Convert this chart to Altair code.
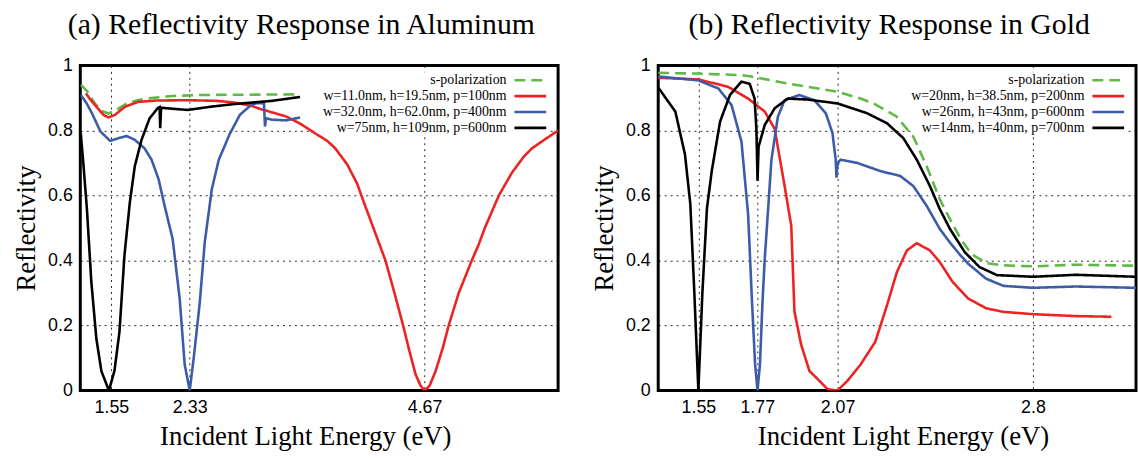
import altair as alt
import pandas as pd

# ---------------- (a) Aluminum ----------------
al_spol_E = [1.245, 1.26, 1.31, 1.38, 1.45, 1.52, 1.60, 1.70, 1.81, 1.95, 2.16, 2.44, 2.94, 3.43]
al_spol_R = [0.940, 0.936, 0.920, 0.885, 0.860, 0.852, 0.863, 0.882, 0.893, 0.900, 0.906, 0.909, 0.910, 0.911]

al_red_E = [1.296, 1.34, 1.388, 1.47, 1.52, 1.586, 1.685, 1.817, 2.0, 2.31, 2.60, 2.77, 2.94, 3.035, 3.08,
            3.29, 3.43, 3.57, 3.70, 3.78, 3.90, 4.00, 4.04, 4.16, 4.28, 4.37, 4.456, 4.52, 4.58, 4.63,
            4.67, 4.72, 4.78, 4.85, 4.91, 5.01, 5.14, 5.21, 5.27, 5.41, 5.54, 5.66, 5.74, 5.88, 6.0]
al_red_R = [0.914, 0.895, 0.878, 0.848, 0.840, 0.848, 0.873, 0.888, 0.892, 0.893, 0.891, 0.886, 0.876, 0.866, 0.862,
            0.843, 0.821, 0.793, 0.768, 0.745, 0.695, 0.635, 0.600, 0.500, 0.400, 0.300, 0.200, 0.120, 0.050, 0.015,
            0.0, 0.015, 0.060, 0.130, 0.200, 0.300, 0.400, 0.450, 0.500, 0.600, 0.670, 0.720, 0.745, 0.775, 0.800]

al_blue_E = [1.245, 1.30, 1.356, 1.44, 1.537, 1.62, 1.70, 1.783, 1.88, 1.95, 2.02, 2.08, 2.16, 2.23, 2.28,
             2.33, 2.37, 2.43, 2.48, 2.55, 2.62, 2.73, 2.83, 2.94, 3.00, 3.07, 3.08, 3.09, 3.15, 3.29, 3.43]
al_blue_R = [0.909, 0.885, 0.853, 0.797, 0.768, 0.776, 0.783, 0.771, 0.745, 0.710, 0.650, 0.568, 0.466, 0.283, 0.080,
             0.0, 0.100, 0.270, 0.456, 0.619, 0.710, 0.790, 0.848, 0.878, 0.884, 0.883, 0.812, 0.838, 0.833, 0.831, 0.840]

al_black_E = [1.245, 1.27, 1.306, 1.35, 1.40, 1.45, 1.525, 1.58, 1.63, 1.68, 1.734, 1.783, 1.85, 1.93, 2.015,
              2.03, 2.036, 2.045, 2.11, 2.31, 2.54, 2.80, 3.035, 3.15, 3.43]
al_black_R = [0.790, 0.700, 0.558, 0.334, 0.160, 0.060, 0.0, 0.060, 0.180, 0.416, 0.580, 0.690, 0.771, 0.837, 0.870,
              0.872, 0.807, 0.870, 0.868, 0.863, 0.873, 0.882, 0.888, 0.891, 0.903]

# ---------------- (b) Gold ----------------
au_spol_E = [1.40, 1.55, 1.711, 1.753, 1.887, 2.02, 2.07, 2.156, 2.205, 2.29, 2.353, 2.403, 2.452, 2.49,
             2.53, 2.57, 2.625, 2.69, 2.80, 2.96, 3.185]
au_spol_R = [0.977, 0.975, 0.970, 0.965, 0.944, 0.926, 0.919, 0.898, 0.883, 0.843, 0.781, 0.690, 0.588, 0.527,
             0.466, 0.420, 0.392, 0.385, 0.382, 0.387, 0.384]

au_red_E = [1.40, 1.55, 1.662, 1.736, 1.798, 1.835, 1.872, 1.897, 1.909, 1.934, 1.965, 1.996, 2.033, 2.07,
            2.107, 2.156, 2.211, 2.255, 2.292, 2.329, 2.366, 2.415, 2.452, 2.50, 2.558, 2.625, 2.69, 2.80,
            2.96, 3.093]
au_red_R = [0.962, 0.957, 0.934, 0.898, 0.858, 0.805, 0.630, 0.507, 0.243, 0.141, 0.060, 0.035, 0.004, 0.0,
            0.030, 0.080, 0.150, 0.263, 0.365, 0.431, 0.453, 0.431, 0.395, 0.334, 0.283, 0.253, 0.242, 0.235,
            0.229, 0.227]

au_blue_E = [1.40, 1.55, 1.625, 1.674, 1.711, 1.736, 1.75, 1.762, 1.771, 1.78, 1.79, 1.798, 1.823, 1.847,
             1.872, 1.927, 1.983, 2.026, 2.051, 2.063, 2.066, 2.069, 2.075, 2.082, 2.144, 2.23, 2.304, 2.353,
             2.403, 2.452, 2.49, 2.525, 2.558, 2.625, 2.69, 2.80, 2.96, 3.185]
au_blue_R = [0.966, 0.954, 0.929, 0.878, 0.766, 0.540, 0.280, 0.080, 0.0, 0.080, 0.280, 0.405, 0.710, 0.842,
             0.893, 0.909, 0.893, 0.853, 0.792, 0.710, 0.655, 0.690, 0.705, 0.710, 0.700, 0.675, 0.660, 0.629,
             0.568, 0.497, 0.455, 0.420, 0.390, 0.344, 0.322, 0.316, 0.320, 0.316]

au_black_E = [1.40, 1.464, 1.50, 1.52, 1.535, 1.55, 1.565, 1.582, 1.60, 1.631, 1.668, 1.711, 1.742, 1.76,
              1.767, 1.771, 1.775, 1.798, 1.835, 1.884, 1.958, 2.07, 2.18, 2.255, 2.316, 2.366, 2.415,
              2.452, 2.49, 2.545, 2.60, 2.665, 2.80, 2.96, 3.185]
au_black_R = [0.932, 0.858, 0.726, 0.573, 0.300, 0.0, 0.300, 0.560, 0.675, 0.827, 0.909, 0.950, 0.943, 0.898,
              0.800, 0.645, 0.750, 0.817, 0.868, 0.898, 0.895, 0.883, 0.853, 0.822, 0.776, 0.710, 0.629,
              0.558, 0.497, 0.426, 0.380, 0.355, 0.350, 0.356, 0.350]

al_labels = ["s-polarization", "w=11.0nm, h=19.5nm, p=100nm",
             "w=32.0nm, h=62.0nm, p=400nm", "w=75nm, h=109nm, p=600nm"]
au_labels = ["s-polarization", "w=20nm, h=38.5nm, p=200nm",
             "w=26nm, h=43nm, p=600nm", "w=14nm, h=40nm, p=700nm"]

al_xticks = [1.55, 2.33, 4.67]
au_xticks = [1.55, 1.77, 2.07, 2.8]
y_ticks = [0, 0.2, 0.4, 0.6, 0.8, 1]

COLORS = ["#5fb946", "#ee2222", "#3c5ba9", "#000000"]
DASHES = [[11, 6], [1, 0], [1, 0], [1, 0]]

SERIF = "Liberation Serif"
SANS = "Liberation Sans"
W_A, W_B, H = 482, 482, 328


def panel(series, labels, xdom, xticks, title, width, title_dx, xtitle_shift, key_w):
    layers = []
    # opaque key box (hides grid behind the legend, like the original)
    layers.append(
        alt.Chart(pd.DataFrame({"k": [0]})).mark_rect(color="white").encode(
            x=alt.value(width - 52 - key_w), x2=alt.value(width - 8),
            y=alt.value(7), y2=alt.value(71))
    )
    for i, (E, R) in enumerate(series):
        df = pd.DataFrame({"E": E, "R": R, "i": list(range(len(E)))})
        layers.append(
            alt.Chart(df).mark_line(
                color=COLORS[i], strokeWidth=2.6, strokeDash=DASHES[i], clip=True
            ).encode(
                x=alt.X("E:Q",
                        scale=alt.Scale(domain=xdom, nice=False, zero=False),
                        axis=alt.Axis(values=xticks, labelExpr="'' + datum.value",
                                      title="Incident Light Energy (eV)",
                                      titleX=width / 2 + xtitle_shift)),
                y=alt.Y("R:Q",
                        scale=alt.Scale(domain=[0, 1], nice=False),
                        axis=alt.Axis(values=y_ticks, labelExpr="'' + datum.value",
                                      title="Reflectivity")),
                order="i:Q",
            )
        )
    # legend (top-right, text right-aligned with sample on the right)
    for i, lab in enumerate(labels):
        yy = 15 + 16 * i
        layers.append(
            alt.Chart(pd.DataFrame({"t": [lab]})).mark_text(
                align="right", baseline="middle", font=SERIF, fontSize=14, color="black"
            ).encode(text="t:N", x=alt.value(width - 52), y=alt.value(yy))
        )
        layers.append(
            alt.Chart(pd.DataFrame({"t": [lab]})).mark_rule(
                color=COLORS[i], strokeWidth=2.6, strokeDash=DASHES[i]
            ).encode(x=alt.value(width - 44), x2=alt.value(width - 12), y=alt.value(yy))
        )
    return alt.layer(*layers).properties(
        width=width, height=H,
        title=alt.TitleParams(title, font=SERIF, fontSize=30, fontWeight="normal",
                              color="black", offset=17, dx=title_dx),
    )


pa = panel([(al_spol_E, al_spol_R), (al_red_E, al_red_R), (al_blue_E, al_blue_R), (al_black_E, al_black_R)],
           al_labels, [1.24, 6.0], al_xticks, "(a) Reflectivity Response in Aluminum", W_A, -18, -14, 194)
pb = panel([(au_spol_E, au_spol_R), (au_red_E, au_red_R), (au_blue_E, au_blue_R), (au_black_E, au_black_R)],
           au_labels, [1.40, 3.185], au_xticks, "(b) Reflectivity Response in Gold", W_B, -8, 6, 174)

chart = alt.hconcat(pa, pb, spacing=29).properties(
    padding={"left": 11, "top": 6, "right": 0, "bottom": 0},
    background="white",
).configure_view(
    stroke="black", strokeWidth=3
).configure_axis(
    labelFont=SANS, labelFontSize=18, labelColor="black",
    titleFont=SERIF, titleFontSize=27, titleFontWeight="normal", titleColor="black",
    ticks=False, domain=False, grid=True, gridColor="black", gridDash=[2, 4],
    gridWidth=1, gridOpacity=0.85, labelFlush=False,
).configure_axisY(
    labelPadding=8, titlePadding=7,
).configure_axisX(
    labelPadding=8, titlePadding=7,
)

chart.save("out.html", embed_options={"renderer": "svg", "actions": False})
